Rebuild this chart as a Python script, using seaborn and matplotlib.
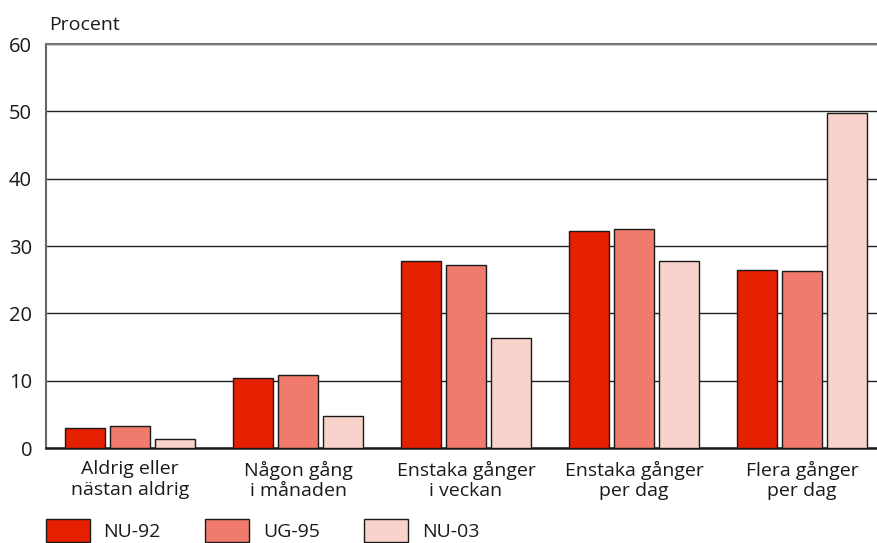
import matplotlib
matplotlib.use("Agg")
import matplotlib.pyplot as plt
import seaborn as sns
import pandas as pd
from matplotlib.patches import Patch

categories = ["Aldrig eller\nnästan aldrig", "Någon gång\ni månaden",
              "Enstaka gånger\ni veckan", "Enstaka gånger\nper dag",
              "Flera gånger\nper dag"]
series = ["NU-92", "UG-95", "NU-03"]
nu92 = [3.0, 10.4, 27.7, 32.3, 26.4]
ug95 = [3.2, 10.8, 27.2, 32.5, 26.3]
nu03 = [1.4, 4.8, 16.3, 27.7, 49.8]
yticks = [0, 10, 20, 30, 40, 50, 60]
colors = ["#e52000", "#f07b6c", "#f9d2cb"]

rows = []
for name, vals in zip(series, [nu92, ug95, nu03]):
    for c, v in zip(categories, vals):
        rows.append({"kategori": c, "serie": name, "procent": v})
df = pd.DataFrame(rows)

sns.set_theme(style="white")
plt.rcParams["font.family"] = ["Open Sans", "DejaVu Sans"]

W, H = 877, 543
fig = plt.figure(figsize=(W / 100, H / 100), dpi=100)
ax = fig.add_axes([46 / W, 1 - 448 / H, 840 / W, 404 / H])

sns.barplot(data=df, x="kategori", y="procent", hue="serie",
            order=categories, hue_order=series, palette=colors,
            saturation=1, width=0.8, gap=0.1, edgecolor="#1a1a1a",
            linewidth=1.0, legend=False, ax=ax, zorder=3)

ax.set_xlim(-0.5, 4.5)
ax.set_ylim(0, 60)
ax.set_yticks(yticks)
ax.set_xlabel("")
ax.set_ylabel("")
ax.yaxis.grid(True, color="#222222", linewidth=1.0)
ax.set_axisbelow(True)
ax.tick_params(axis="both", length=0, labelsize=14, colors="#1a1a1a")
ax.tick_params(axis="y", pad=10, labelsize=14.5)
ax.tick_params(axis="x", pad=9)
for lab in ax.get_xticklabels():
    lab.set_linespacing(1.2)

ax.spines["left"].set_color("#666666")
ax.spines["left"].set_linewidth(1.5)
ax.spines["top"].set_color("#777777")
ax.spines["top"].set_linewidth(1.5)
ax.spines["bottom"].set_color("#1a1a1a")
ax.spines["bottom"].set_linewidth(1.8)
ax.spines["right"].set_visible(False)

fig.text(49 / W, 1 - 30 / H, "Procent", fontsize=14, color="#1a1a1a",
         ha="left", va="baseline")

handles = [Patch(facecolor=c, edgecolor="#1a1a1a", linewidth=1.0) for c in colors]
fig.legend(handles, series, loc="upper left",
           bbox_to_anchor=(46 / W, 1 - 519 / H), ncol=3, frameon=False,
           fontsize=14, handlelength=2.25, handleheight=1.45,
           handletextpad=0.7, columnspacing=2.3, borderpad=0,
           borderaxespad=0, labelcolor="#1a1a1a")

fig.savefig("out.png", dpi=100)
